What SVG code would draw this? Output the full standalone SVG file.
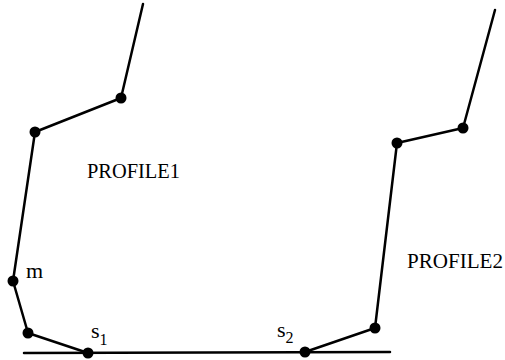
<svg xmlns="http://www.w3.org/2000/svg" width="505" height="360" viewBox="0 0 505 360">
<style>
.ln{fill:none;stroke:#000;stroke-width:2.5;stroke-linejoin:round;stroke-linecap:round}
.dot{fill:#000}
text{font-family:"Liberation Serif","Times New Roman",serif;fill:#000}
.lbl{font-size:20px}
.it{font-size:22px}
.sub{font-size:16px}
</style>
<rect width="505" height="360" fill="#fff"/>
<g id="connectors">
<line class="ln" x1="24" y1="353" x2="390" y2="352"/>
<polyline id="profile1-line" class="ln" points="143,4 121,98 35,132 13,281 28,333 88,353"/>
<polyline id="profile2-line" class="ln" points="495,10 463,128 397,143 375,328 305,352"/>
</g>
<g id="profile1">
<circle class="dot" cx="121" cy="98" r="5.5"/>
<circle class="dot" cx="35" cy="132" r="5.5"/>
<circle class="dot" cx="13" cy="281" r="5.5"/>
<circle class="dot" cx="28" cy="333" r="5.5"/>
<text class="lbl" x="87" y="178" textLength="93" lengthAdjust="spacingAndGlyphs">PROFILE1</text>
<text class="it" x="26" y="278">m</text>
</g>
<g id="s1">
<circle class="dot" cx="88" cy="353" r="5.5"/>
<text class="it" x="91" y="338">s<tspan class="sub" dy="7">1</tspan></text>
</g>
<g id="profile2">
<circle class="dot" cx="463" cy="128" r="5.5"/>
<circle class="dot" cx="397" cy="143" r="5.5"/>
<circle class="dot" cx="375" cy="328" r="5.5"/>
<text class="lbl" x="407" y="268" textLength="96" lengthAdjust="spacingAndGlyphs">PROFILE2</text>
</g>
<g id="s2">
<circle class="dot" cx="305" cy="352" r="5.5"/>
<text class="it" x="277" y="337">s<tspan class="sub" dy="6">2</tspan></text>
</g>
</svg>
